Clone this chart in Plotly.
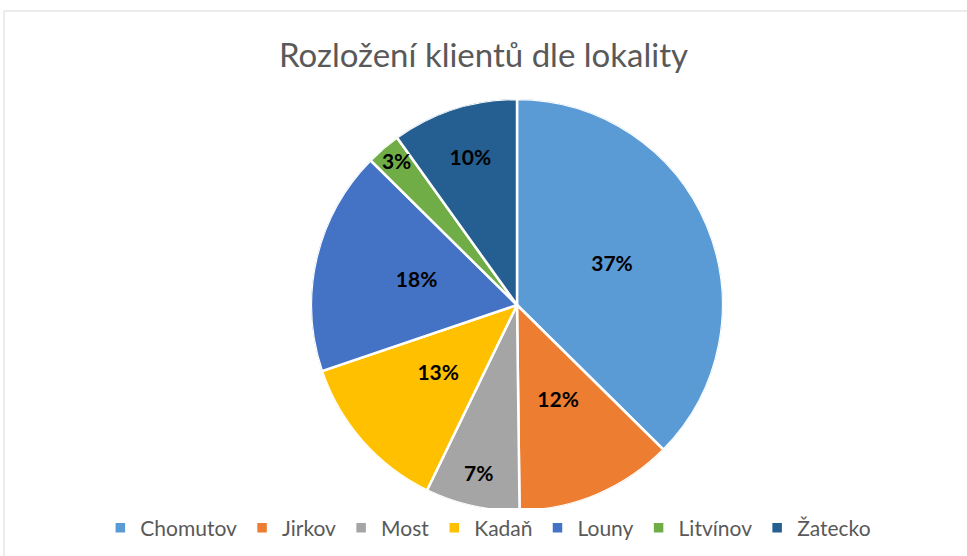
import plotly.graph_objects as go

categories = ["Chomutov", "Jirkov", "Most", "Kadaň", "Louny", "Litvínov", "Žatecko"]
values = [37.4, 12.4, 7.4, 12.6, 17.6, 2.7, 9.9]   # percent shares
colors = ["#5B9BD5", "#ED7D31", "#A5A5A5", "#FFC000", "#4472C4", "#70AD47", "#255E91"]
title_text = "Rozložení klientů dle lokality"

# label placement style (fraction of radius), Excel "best fit" look
label_radius = [0.5, 0.51, 0.85, 0.51, 0.5, 0.9, 0.74]

W, H = 967, 556
FONT = "Lato, Carlito, Calibri, Liberation Sans, Arial"

total = sum(values)
widths = [v / total * 360 for v in values]
mids = []
acc = 0.0
for w in widths:
    mids.append(acc + w / 2)
    acc += w
pct_text = [f"<b>{round(v / total * 100):d}%</b>" for v in values]

fig = go.Figure()
for name, w, m, c in zip(categories, widths, mids, colors):
    fig.add_trace(go.Barpolar(
        r=[1], theta=[m], width=[w], base=0, name=name,
        marker=dict(color=c, line=dict(color="white", width=2.5)),
        hovertemplate=f"{name}: %{{customdata}}<extra></extra>",
        customdata=[f"{w / 3.6:.1f}%"],
    ))

fig.add_trace(go.Scatterpolar(
    r=label_radius, theta=mids, mode="text", text=pct_text,
    textfont=dict(family=FONT, size=21, color="black"),
    showlegend=False, hoverinfo="skip",
))

fig.update_layout(
    width=W, height=H,
    margin=dict(l=0, r=0, t=0, b=0),
    paper_bgcolor="white",
    polar=dict(
        domain=dict(x=[311 / W, 723 / W], y=[1 - 511 / H, 1 - 99 / H]),
        bgcolor="rgba(0,0,0,0)",
        angularaxis=dict(rotation=90, direction="clockwise", visible=False, showgrid=False),
        radialaxis=dict(range=[0, 1], visible=False, showgrid=False),
        bargap=0,
    ),
    title=dict(text=title_text, x=0.5, xanchor="center", y=1 - 55 / H, yanchor="middle",
               font=dict(family=FONT, size=33, color="#595959")),
    legend=dict(orientation="h", x=0.505, xanchor="center", y=1 - 528 / H, yanchor="middle",
                font=dict(family=FONT, size=21, color="#595959"),
                traceorder="normal", itemwidth=30),
    shapes=[dict(type="rect", xref="paper", yref="paper",
                 x0=4 / W, x1=1.01, y0=-0.01, y1=1 - 11 / H,
                 line=dict(color="#D9D9D9", width=1))],
)

fig.write_html("out.html")
